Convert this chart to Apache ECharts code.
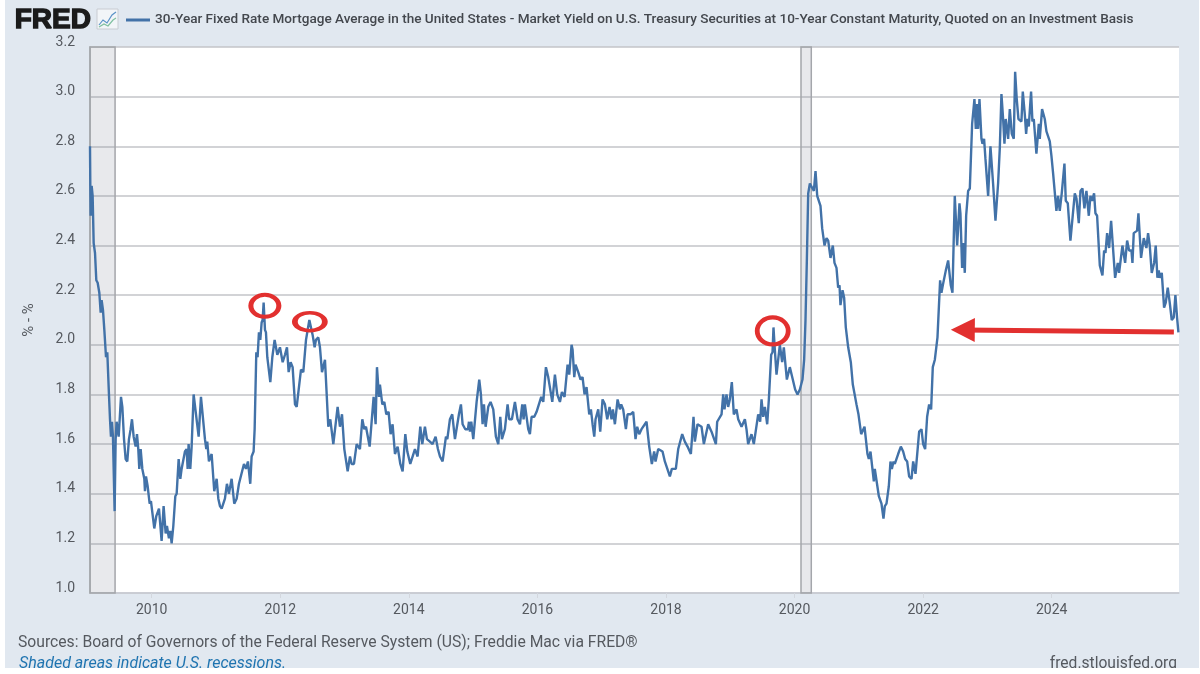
<!DOCTYPE html>
<html>
<head>
<meta charset="utf-8">
<style>
html,body{margin:0;padding:0;background:#fff;width:1200px;height:674px;overflow:hidden}
#panel{position:absolute;left:5px;top:0;width:1194px;height:668px;background:#e1e8f0}
#chart{position:absolute;left:0;top:0;width:1200px;height:674px}
</style>
<script src="https://cdn.jsdelivr.net/npm/echarts@6/dist/echarts.min.js"></script>
</head>
<body>
<div id="panel"></div>
<div id="chart"></div>
<script>
const seriesName = '30-Year Fixed Rate Mortgage Average in the United States - Market Yield on U.S. Treasury Securities at 10-Year Constant Maturity, Quoted on an Investment Basis';
const sourceNote = 'Sources: Board of Governors of the Federal Reserve System (US); Freddie Mac via FRED®';
const recessionNote = 'Shaded areas indicate U.S. recessions.';
const siteNote = 'fred.stlouisfed.org';
const yAxisTitle = '% - %';
const yearTicks = [2010,2012,2014,2016,2018,2020,2022,2024];

const years = [
2009.04,2009.045,2009.05,2009.066,2009.081,2009.097,2009.118,2009.138,2009.159,2009.185,2009.206,2009.221,2009.242,2009.263,2009.289,2009.309,2009.335,2009.351,2009.366,2009.382,2009.397,2009.423,2009.439,2009.454,2009.470,2009.486,2009.522,2009.543,2009.569,2009.594,2009.620,2009.646,2009.672,2009.693,2009.719,2009.750,2009.771,2009.791,2009.807,2009.828,2009.854,2009.885,2009.895,2009.911,2009.937,2009.968,2009.988,
2010.04,2010.071,2010.113,2010.154,2010.185,2010.217,2010.237,2010.268,2010.289,2010.310,2010.336,2010.367,2010.388,2010.419,2010.445,2010.465,2010.491,2010.517,2010.543,2010.559,2010.574,2010.600,2010.621,2010.652,2010.678,2010.730,2010.766,2010.787,2010.828,2010.849,2010.864,2010.890,2010.932,2010.973,
2011.01,2011.036,2011.062,2011.088,2011.113,2011.139,2011.170,2011.201,2011.243,2011.284,2011.321,2011.357,2011.388,2011.435,2011.466,2011.497,2011.533,2011.554,2011.585,2011.601,2011.627,2011.647,2011.668,2011.689,2011.710,2011.725,2011.741,2011.762,2011.777,2011.798,2011.845,2011.876,2011.912,2011.954,2011.995,
2012.037,2012.073,2012.104,2012.130,2012.161,2012.192,2012.229,2012.255,2012.280,2012.322,2012.358,2012.400,2012.452,2012.503,2012.534,2012.555,2012.591,2012.617,2012.649,2012.695,2012.747,2012.778,2012.825,2012.892,2012.928,2012.960,2012.996,
2013.048,2013.084,2013.110,2013.146,2013.188,2013.239,2013.276,2013.307,2013.333,2013.390,2013.452,2013.483,2013.504,2013.535,2013.550,2013.587,2013.618,2013.649,2013.685,2013.716,2013.747,2013.784,2013.825,2013.867,2013.903,2013.945,2013.976,
2014.022,2014.095,2014.136,2014.178,2014.209,2014.250,2014.281,2014.328,2014.369,2014.416,2014.452,2014.484,2014.525,2014.577,2014.598,2014.639,2014.675,2014.717,2014.743,2014.779,2014.810,2014.836,2014.878,2014.919,2014.935,2014.950,2014.971,
2015.002,2015.054,2015.069,2015.095,2015.121,2015.147,2015.168,2015.194,2015.235,2015.271,2015.313,2015.354,2015.391,2015.422,2015.448,2015.494,2015.536,2015.562,2015.603,2015.650,2015.691,2015.728,2015.764,2015.785,2015.805,2015.857,2015.883,2015.909,2015.951,2015.987,
2016.018,2016.059,2016.091,2016.132,2016.168,2016.231,2016.272,2016.308,2016.350,2016.381,2016.422,2016.469,2016.495,2016.531,2016.547,2016.573,2016.593,2016.635,2016.671,2016.702,2016.733,2016.764,2016.806,2016.832,2016.858,2016.884,2016.904,2016.946,2016.977,
2017.013,2017.050,2017.086,2017.122,2017.153,2017.174,2017.205,2017.247,2017.283,2017.303,2017.334,2017.376,2017.402,2017.448,2017.490,2017.526,2017.552,2017.583,2017.619,2017.697,2017.739,2017.780,2017.816,2017.837,2017.879,2017.946,2017.982,
2018.060,2018.091,2018.153,2018.190,2018.252,2018.293,2018.335,2018.387,2018.428,2018.449,2018.490,2018.553,2018.589,2018.656,2018.708,2018.776,2018.796,2018.864,2018.890,2018.910,2018.941,2018.967,2018.993,
2019.024,2019.055,2019.097,2019.123,2019.175,2019.227,2019.252,2019.278,2019.330,2019.366,2019.434,2019.465,2019.486,2019.512,2019.538,2019.574,2019.600,2019.636,2019.657,2019.672,2019.693,2019.719,2019.771,2019.807,2019.833,2019.880,2019.926,2019.963,
2020.009,2020.046,2020.082,2020.123,2020.149,2020.170,2020.191,2020.212,2020.238,2020.269,2020.300,2020.326,2020.352,2020.383,2020.403,2020.429,2020.466,2020.497,2020.523,2020.559,2020.595,2020.621,2020.652,2020.678,2020.699,2020.714,2020.746,2020.771,2020.797,2020.834,2020.875,2020.906,2020.927,2020.963,2020.994,
2021.036,2021.088,2021.134,2021.155,2021.181,2021.233,2021.248,2021.311,2021.352,2021.383,2021.404,2021.430,2021.466,2021.492,2021.513,2021.539,2021.559,2021.611,2021.653,2021.689,2021.720,2021.751,2021.782,2021.819,2021.845,2021.881,2021.912,2021.938,2021.974,
2022.000,2022.031,2022.062,2022.093,2022.124,2022.150,2022.182,2022.223,2022.264,2022.285,2022.306,2022.353,2022.389,2022.430,2022.456,2022.492,2022.529,2022.565,2022.580,2022.606,2022.622,2022.648,2022.669,2022.700,2022.726,2022.762,2022.798,2022.819,2022.840,2022.855,2022.876,2022.907,2022.923,2022.948,2022.969,
2023.011,2023.047,2023.088,2023.125,2023.166,2023.192,2023.218,2023.244,2023.265,2023.285,2023.322,2023.348,2023.379,2023.410,2023.431,2023.456,2023.482,2023.529,2023.550,2023.581,2023.602,2023.622,2023.643,2023.679,2023.700,2023.721,2023.762,2023.799,2023.814,2023.850,2023.892,2023.918,2023.970,2023.996,
2024.022,2024.073,2024.099,2024.125,2024.156,2024.198,2024.219,2024.250,2024.291,2024.359,2024.385,2024.421,2024.447,2024.478,2024.509,2024.540,2024.577,2024.602,2024.628,2024.659,2024.680,2024.706,2024.748,2024.789,2024.815,2024.836,2024.862,2024.893,2024.924,2024.945,2024.986,
2025.028,2025.048,2025.100,2025.142,2025.173,2025.204,2025.240,2025.256,2025.276,2025.307,2025.328,2025.349,2025.390,2025.432,2025.453,2025.473,2025.499,2025.525,2025.556,2025.593,2025.618,2025.644,2025.665,2025.681,2025.712,2025.748,2025.774,2025.805,2025.836,2025.867,2025.898,2025.924,2025.950,2025.971
];

const spreads = [
2.80,2.64,2.52,2.64,2.60,2.41,2.37,2.26,2.25,2.21,2.13,2.18,2.14,2.06,1.95,1.97,1.80,1.70,1.63,1.69,1.63,1.33,1.62,1.69,1.69,1.63,1.79,1.75,1.62,1.54,1.53,1.62,1.66,1.70,1.63,1.59,1.64,1.58,1.50,1.58,1.50,1.46,1.41,1.47,1.43,1.36,1.37,
1.26,1.31,1.34,1.21,1.35,1.24,1.27,1.22,1.25,1.20,1.27,1.39,1.40,1.54,1.46,1.50,1.50,1.57,1.58,1.50,1.60,1.50,1.59,1.80,1.80,1.63,1.79,1.79,1.62,1.58,1.61,1.53,1.56,1.41,
1.46,1.38,1.35,1.34,1.34,1.38,1.44,1.40,1.46,1.36,1.38,1.44,1.44,1.52,1.50,1.53,1.44,1.55,1.57,1.66,1.97,1.95,2.05,2.02,2.09,2.10,2.17,2.06,2.05,1.95,1.85,1.95,2.02,1.96,1.99,
1.93,1.96,1.99,1.89,1.93,1.91,1.76,1.75,1.75,1.90,1.89,2.02,2.10,2.04,1.99,2.02,2.03,1.99,1.89,1.94,1.67,1.70,1.60,1.75,1.67,1.72,1.58,
1.49,1.55,1.52,1.52,1.60,1.58,1.70,1.66,1.67,1.59,1.79,1.68,1.91,1.79,1.84,1.76,1.77,1.72,1.73,1.64,1.68,1.56,1.59,1.52,1.49,1.64,1.57,
1.52,1.58,1.55,1.67,1.60,1.67,1.62,1.61,1.60,1.63,1.58,1.55,1.53,1.63,1.62,1.70,1.72,1.62,1.62,1.72,1.76,1.68,1.66,1.66,1.69,1.65,1.69,
1.62,1.77,1.77,1.86,1.80,1.68,1.76,1.67,1.75,1.77,1.74,1.63,1.60,1.71,1.62,1.66,1.76,1.70,1.70,1.77,1.70,1.68,1.76,1.70,1.76,1.66,1.64,1.71,1.71,1.73,
1.73,1.79,1.77,1.91,1.87,1.77,1.88,1.80,1.77,1.81,1.79,1.92,1.88,2.00,1.98,1.87,1.92,1.89,1.86,1.87,1.80,1.83,1.72,1.74,1.68,1.63,1.70,1.74,1.65,
1.78,1.76,1.70,1.75,1.70,1.74,1.68,1.78,1.74,1.76,1.74,1.66,1.72,1.72,1.73,1.62,1.67,1.64,1.66,1.69,1.59,1.52,1.57,1.53,1.58,1.57,1.53,
1.47,1.50,1.50,1.58,1.64,1.61,1.59,1.56,1.71,1.61,1.68,1.67,1.60,1.68,1.65,1.60,1.69,1.72,1.80,1.74,1.80,1.75,1.78,
1.85,1.72,1.74,1.70,1.67,1.70,1.66,1.60,1.64,1.60,1.72,1.69,1.78,1.71,1.75,1.68,1.78,1.96,1.97,2.07,1.98,1.88,2.00,1.93,1.99,1.86,1.91,1.87,
1.82,1.80,1.82,1.86,1.94,2.10,2.34,2.61,2.65,2.65,2.62,2.70,2.60,2.60,2.56,2.47,2.40,2.43,2.42,2.35,2.40,2.33,2.31,2.23,2.24,2.16,2.22,2.19,2.07,1.99,1.93,1.84,1.84,1.76,1.72,
1.64,1.67,1.56,1.54,1.57,1.45,1.50,1.39,1.36,1.30,1.35,1.36,1.43,1.53,1.50,1.53,1.52,1.56,1.59,1.57,1.54,1.53,1.47,1.46,1.53,1.48,1.48,1.65,1.66,
1.60,1.58,1.71,1.76,1.74,1.91,1.94,2.03,2.26,2.21,2.24,2.30,2.34,2.24,2.21,2.60,2.40,2.57,2.53,2.31,2.41,2.29,2.52,2.62,2.63,2.89,2.99,2.87,2.97,2.87,2.99,2.83,2.81,2.83,2.75,
2.60,2.80,2.65,2.50,2.65,2.79,3.01,2.91,2.81,2.91,2.83,2.95,2.85,2.83,3.10,2.99,2.91,2.90,3.02,2.93,2.85,2.91,2.88,3.02,2.90,2.91,2.77,2.89,2.83,2.95,2.91,2.86,2.82,2.76,
2.69,2.54,2.60,2.54,2.61,2.73,2.58,2.57,2.42,2.61,2.59,2.49,2.62,2.63,2.55,2.62,2.52,2.60,2.58,2.61,2.53,2.52,2.32,2.28,2.38,2.37,2.45,2.39,2.50,2.50,2.27,
2.33,2.29,2.40,2.33,2.42,2.38,2.38,2.33,2.45,2.45,2.46,2.53,2.35,2.43,2.43,2.39,2.45,2.40,2.29,2.33,2.40,2.27,2.30,2.27,2.29,2.15,2.17,2.23,2.17,2.10,2.11,2.20,2.11,2.05
];

const recessionSpans = [[2009.04, 2009.43], [2020.10, 2020.26]];
const circledPeaks = [[2011.76, 2.157], [2012.46, 2.093], [2019.66, 2.056]];
const arrowFrom = [2025.90, 2.052];
const arrowTo = [2022.617, 2.06];

const ink = '#55595f';
const lineBlue = '#4272a8';
const red = '#e2302f';
const ellipseSizes = [[28, 22], [30, 18], [31, 27]];

const chart = echarts.init(document.getElementById('chart'), null, {renderer:'canvas', width:1200, height:674});
chart.setOption({
  animation:false,
  backgroundColor:'transparent',
  textStyle:{fontFamily:'Roboto'},
  legend:{
    show:true, left:121, top:8, itemWidth:24, itemHeight:3, icon:'rect',
    data:[seriesName],
    selectedMode:false,
    textStyle:{fontFamily:'Roboto', fontSize:13.57, fontWeight:500, color:'#43474d'}
  },
  grid:{left:90, right:21, top:47, bottom:81, show:true, backgroundColor:'#fff', borderWidth:0},
  xAxis:{
    type:'value', min:2009.04, max:2025.98,
    splitLine:{show:false},
    axisLine:{show:true, onZero:false, lineStyle:{color:'#c9ccd3', width:1.5}},
    axisTick:{show:true, length:5, customValues:yearTicks, lineStyle:{color:'#d3d7de', width:1}},
    axisLabel:{show:true, customValues:yearTicks, margin:10, fontFamily:'Roboto', fontSize:14, color:ink, formatter:v=>String(v)}
  },
  yAxis:{
    type:'value', min:1, max:3.2, interval:0.2,
    name:yAxisTitle, nameLocation:'middle', nameGap:53, nameRotate:90,
    nameTextStyle:{fontFamily:'Roboto', fontSize:15, color:ink},
    axisLine:{show:true, onZero:false, lineStyle:{color:'#a9abb0', width:1.5}},
    axisTick:{show:false},
    axisLabel:{margin:15, fontFamily:'Roboto', fontSize:14, color:ink, verticalAlign:'bottom', lineHeight:10, formatter:v=>v.toFixed(1)},
    splitLine:{show:true, lineStyle:{color:'#c3c5c9', width:1.6}}
  },
  series:[
    {
      name:seriesName, type:'line', showSymbol:false, symbol:'none', smooth:false, z:3,
      data:years.map((y,i)=>[y,spreads[i]]),
      lineStyle:{color:lineBlue, width:2.4},
      itemStyle:{color:lineBlue},
      silent:true,
      markArea:{
        silent:true, z:1,
        itemStyle:{color:'rgba(125,135,150,0.18)', borderColor:'#a4a6ab', borderWidth:1.5},
        data:recessionSpans.map(s=>[{xAxis:s[0]},{xAxis:s[1]}])
      },
      markLine:{
        silent:true, symbol:['none','triangle'], symbolSize:[24,24], z:5,
        label:{show:false},
        lineStyle:{color:red, width:5, type:'solid', opacity:1},
        data:[[{coord:arrowFrom},{coord:arrowTo}]]
      }
    },
    {
      name:'circled', type:'scatter', z:4, silent:true,
      data:circledPeaks.map((p,i)=>({value:p, symbolSize:ellipseSizes[i]})),
      symbol:'circle',
      itemStyle:{color:'transparent', borderColor:red, borderWidth:4.5, opacity:1}
    }
  ],
  graphic:[
    {type:'text', left:14, top:6, style:{text:'FRED', font:'900 28px "Liberation Sans"', fill:'#1b1b1b', stroke:'#1b1b1b', lineWidth:1.4}},
    {type:'rect', shape:{x:97,y:9,width:21,height:20}, style:{fill:'#f2f5f8', stroke:'#c8ccd2', lineWidth:1}},
    {type:'polyline', shape:{points:[[99,25],[103,20],[107,23],[112,15],[116,12]]}, style:{stroke:'#5b93c7', fill:null, lineWidth:1.2}},
    {type:'polyline', shape:{points:[[99,27],[104,24],[108,26],[113,20],[116,18]]}, style:{stroke:'#7fc0a0', fill:null, lineWidth:1.2}},
    {type:'text', left:18, top:635, style:{text:sourceNote, font:'15.7px Roboto', fill:ink}},
    {type:'text', left:19, top:656, style:{text:recessionNote, font:'italic 16px Roboto', fill:'#1f74b0'}},
    {type:'text', right:23, top:656, style:{text:siteNote, font:'15.6px Roboto', fill:ink}},
    {type:'rect', z:100, shape:{x:0,y:668,width:1200,height:6}, style:{fill:'#fff'}}
  ]
});
</script>
</body>
</html>
